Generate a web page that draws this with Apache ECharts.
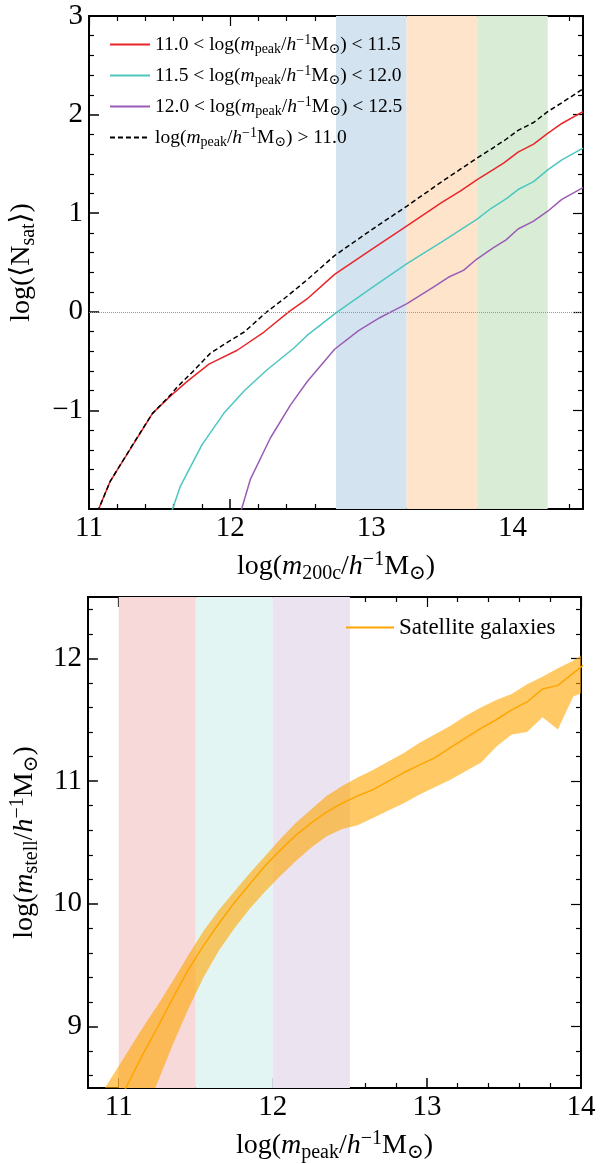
<!DOCTYPE html>
<html><head><meta charset="utf-8">
<script src="https://cdn.jsdelivr.net/npm/echarts@6/dist/echarts.min.js"></script>
<style>html,body{margin:0;padding:0;background:#fff}#c{width:606px;height:1164px}</style>
</head><body><div id="c"></div>
<script>
// ---------------- data: top panel ----------------
const redX = [11.06,11.15,11.45,11.58,11.70,11.85,12.05,12.24,12.415,12.545,12.74,13.00,13.25,13.50,13.63,13.75,13.85,13.94,14.04,14.15,14.25,14.35,14.5];
const redY = [-2.03,-1.72,-1.03,-0.85,-0.70,-0.53,-0.39,-0.205,0.0,0.13,0.38,0.63,0.87,1.11,1.225,1.34,1.43,1.51,1.62,1.70,1.81,1.91,2.03];
const tealX = [11.585,11.647,11.80,11.955,12.10,12.26,12.45,12.545,12.75,13.00,13.25,13.50,13.75,13.85,13.96,14.04,14.15,14.25,14.35,14.5];
const tealY = [-2.03,-1.77,-1.35,-1.03,-0.80,-0.59,-0.37,-0.24,-0.01,0.24,0.485,0.71,0.94,1.05,1.15,1.24,1.32,1.44,1.54,1.66];
const purpleX = [12.075,12.143,12.285,12.427,12.545,12.74,12.91,13.06,13.14,13.25,13.44,13.546,13.653,13.748,13.866,13.955,14.04,14.15,14.25,14.35,14.5];
const purpleY = [-2.03,-1.70,-1.28,-0.946,-0.71,-0.38,-0.19,-0.06,0.0,0.08,0.25,0.35,0.42,0.535,0.65,0.73,0.84,0.92,1.02,1.14,1.26];
const allX = [11.06,11.15,11.30,11.45,11.58,11.62,11.74,11.86,11.98,12.10,12.26,12.38,12.55,12.74,13.00,13.25,13.50,13.75,13.85,13.955,14.04,14.15,14.25,14.35,14.5];
const allY = [-2.03,-1.72,-1.37,-1.03,-0.84,-0.77,-0.60,-0.42,-0.31,-0.205,0.0,0.13,0.33,0.57,0.83,1.07,1.32,1.56,1.65,1.75,1.84,1.92,2.03,2.12,2.26];
const topBands = [[12.75,13.25],[13.25,13.75],[13.75,14.25]];
const topXLabels = [11,12,13,14];
const topYLabels = [3,2,1,0,-1];

// ---------------- data: bottom panel ----------------
const medX = [10.95,11.05,11.15,11.25,11.35,11.45,11.55,11.65,11.75,11.85,11.95,12.05,12.15,12.25,12.35,12.45,12.55,12.65,12.75,12.85,12.95,13.05,13.15,13.25,13.35,13.45,13.55,13.65,13.75,13.85,13.95,14.05];
const medY = [8.26,8.51,8.76,8.99,9.23,9.46,9.66,9.84,10.01,10.16,10.31,10.44,10.56,10.66,10.75,10.82,10.88,10.93,11.00,11.07,11.13,11.19,11.27,11.35,11.43,11.50,11.58,11.645,11.75,11.78,11.88,11.98];
const bandX = [10.85,10.95,11.05,11.15,11.25,11.35,11.45,11.55,11.65,11.75,11.85,11.95,12.05,12.15,12.25,12.35,12.45,12.55,12.65,12.75,12.85,12.95,13.05,13.15,13.25,13.35,13.45,13.55,13.65,13.75,13.85,13.95,14.05];
const bandHi = [8.38,8.58,8.78,8.98,9.17,9.37,9.58,9.78,9.95,10.10,10.25,10.39,10.53,10.66,10.77,10.88,10.96,11.03,11.09,11.16,11.23,11.31,11.38,11.45,11.53,11.60,11.66,11.71,11.79,11.85,11.92,11.98,12.07];
const bandLo = [7.20,7.55,7.88,8.22,8.54,8.85,9.14,9.40,9.62,9.80,9.96,10.10,10.23,10.35,10.46,10.55,10.61,10.64,10.70,10.76,10.82,10.89,10.95,11.01,11.08,11.15,11.28,11.38,11.40,11.52,11.42,11.69,11.74];
const botBands = [[11.0,11.5],[11.5,12.0],[12.0,12.5]];
const botXLabels = [11,12,13,14];
const botYLabels = [9,10,11,12];

// ---------------- styling ----------------
const F = "'Liberation Serif','DejaVu Serif',serif";
function rich(S){
  const LH = Math.round(S*1.2), s = Math.round(S*0.7);
  return {
    rm:{fontFamily:F,fontSize:S,color:'#000',lineHeight:LH},
    it:{fontFamily:F,fontSize:S,fontStyle:'italic',color:'#000',lineHeight:LH},
    sub:{fontFamily:F,fontSize:s,color:'#000',verticalAlign:'bottom',lineHeight:LH-0.66*S},
    sup:{fontFamily:F,fontSize:s,color:'#000',verticalAlign:'top',lineHeight:LH-0.58*S}
  };
}
const massUnit = '{rm|/}{it|h}{sup|−1}{rm|M}{sub|⊙}{rm|)}';
const legendText = {
  r1:'{rm|11.0 < log(}{it|m}{sub|peak}'+massUnit.replace('{rm|)}','{rm|) < 11.5}'),
  r2:'{rm|11.5 < log(}{it|m}{sub|peak}'+massUnit.replace('{rm|)}','{rm|) < 12.0}'),
  r3:'{rm|12.0 < log(}{it|m}{sub|peak}'+massUnit.replace('{rm|)}','{rm|) < 12.5}'),
  all:'{rm|log(}{it|m}{sub|peak}'+massUnit.replace('{rm|)}','{rm|) > 11.0}'),
  sat:'{rm|Satellite galaxies}'
};
function minorList(min,max,step,majors){
  const out=[];
  for(let k=Math.round(min/step);k*step<=max+1e-9;k++){
    const v=+(k*step).toFixed(4);
    if(v>min+1e-9 && v<max-1e-9 && !majors.some(m=>Math.abs(m-v)<1e-6)) out.push(v);
  }
  return out;
}
const fmt = v => (v<0?'−':'')+Math.abs(v);
const black = {color:'#000',width:2};
function axes(dir, grid, min, max, majors, labels, name, nameGap){
  const minors = minorList(min,max,0.2,majors);
  const pos = dir==='x' ? ['bottom','top'] : ['left','right'];
  const base = {type:'value', gridIndex:grid, min, max, splitLine:{show:false}, silent:true};
  const main = Object.assign({}, base, {
    position:pos[0],
    axisLine:{show:true,onZero:false,lineStyle:black},
    axisTick:{show:true,inside:true,length:10,customValues:majors,lineStyle:{color:'#000',width:1.5}},
    axisLabel:{show:true,customValues:labels,margin:dir==='x'?5:6,fontFamily:F,fontSize:29,color:'#000',formatter:fmt},
    name, nameLocation:'middle', nameGap, nameRotate: dir==='x'?0:90,
    nameTextStyle:{rich:rich(28)}
  });
  const mk = (p, ticks, len, line) => Object.assign({}, base, {
    position:p,
    axisLine:{show:line,onZero:false,lineStyle:black},
    axisTick:{show:true,inside:true,length:len,customValues:ticks,lineStyle:{color:'#000',width:1.2}},
    axisLabel:{show:false}
  });
  return [main, mk(pos[0],minors,5,false), mk(pos[1],majors,10,true), mk(pos[1],minors,5,false)];
}
const zip = (xs,ys) => xs.map((x,i)=>[x,ys[i]]);

const xAxis = [].concat(
  axes('x',0,11,14.5,[11,12,13,14],topXLabels,'{rm|log(}{it|m}{sub|200c}'+massUnit,41),
  axes('x',1,10.8,14,[11,12,13,14],botXLabels,'{rm|log(}{it|m}{sub|peak}'+massUnit,41)
);
const yAxis = [].concat(
  axes('y',0,-2,3,[-1,0,1,2,3],topYLabels,'{rm|log(⟨N}{sub|sat}{rm|⟩)}',50),
  axes('y',1,8.5,12.5,[9,10,11,12],botYLabels,'{rm|log(}{it|m}{sub|stell}'+massUnit,44)
);

const topBandColors = ['#d3e3ef','#fde4cb','#d9edd6'];
const botBandColors = ['#f8d9da','#e3f5f3','#ece3f0'];
const line = (name, xs, ys, color, type) => ({
  name, type:'line', xAxisIndex:0, yAxisIndex:0, data:zip(xs,ys), symbol:'none', showSymbol:false,
  lineStyle:{color, width:1.5, type:type||'solid'}, itemStyle:{color}, z:3
});

const s1 = line('r1',redX,redY,'#e8262a');
s1.markArea = {silent:true, data: topBands.map((b,i)=>[{xAxis:b[0],itemStyle:{color:topBandColors[i]}},{xAxis:b[1]}])};
s1.markLine = {silent:true, symbol:'none', data:[{yAxis:0}], lineStyle:{color:'#999',type:'dotted',width:1}, label:{show:false}};

function renderBand(params, api){
  if (params.dataIndex !== 0) return null;
  const pts = [];
  for (let i=0;i<bandX.length;i++) pts.push(api.coord([bandX[i], bandHi[i]]));
  for (let i=bandX.length-1;i>=0;i--) pts.push(api.coord([bandX[i], bandLo[i]]));
  const cs = params.coordSys;
  return {type:'group',
    clipPath:{type:'rect', shape:{x:cs.x,y:cs.y,width:cs.width,height:cs.height}},
    children:[{type:'polygon', shape:{points:pts, smooth:0}, style:{fill:'rgba(255,165,0,0.6)'}}]};
}

const series = [
  s1,
  line('r2',tealX,tealY,'#4cc7c0'),
  line('r3',purpleX,purpleY,'#9a5cb4'),
  line('all',allX,allY,'#000',[5,3]),
  {name:'band', type:'custom', xAxisIndex:4, yAxisIndex:4, clip:true, z:2,
   data: bandX.map((x,i)=>[x,bandLo[i],bandHi[i]]), encode:{x:0,y:[1,2]}, renderItem:renderBand, silent:true},
  {name:'sat', type:'line', xAxisIndex:4, yAxisIndex:4, data:zip(medX,medY), symbol:'none', showSymbol:false,
   lineStyle:{color:'#ffa500',width:1.5}, itemStyle:{color:'#ffa500'}, z:3,
   markArea:{silent:true, data: botBands.map((b,i)=>[{xAxis:b[0],itemStyle:{color:botBandColors[i]}},{xAxis:b[1]}])}}
];

const solidIcon = 'path://M0,0H40V2H0Z';
const dashIcon = 'path://M0,0H5V2H0Z M8,0H13V2H8Z M16,0H21V2H16Z M24,0H29V2H24Z M32,0H37V2H32Z M40,0H40.01V2H40Z';

const chart = echarts.init(document.getElementById('c'), null, {renderer:'canvas'});
chart.setOption({
  animation:false,
  backgroundColor:'#fff',
  grid:[{left:89,top:16,width:494,height:493},{left:86,top:597,width:495,height:494}],
  xAxis, yAxis,
  legend:[
    {data:[{name:'r1',icon:solidIcon},{name:'r2',icon:solidIcon},{name:'r3',icon:solidIcon},{name:'all',icon:dashIcon}],
     orient:'vertical', left:105, top:28, itemWidth:40, itemHeight:2, itemGap:8,
     selectedMode:false, formatter:n=>legendText[n], textStyle:{rich:rich(19.5)}},
    {data:[{name:'sat',icon:'path://M0,0H48V2H0Z'}], orient:'vertical', left:341, top:611, itemWidth:48, itemHeight:2,
     selectedMode:false, formatter:n=>legendText[n], textStyle:{rich:rich(23)}}
  ],
  series
});
</script></body></html>
